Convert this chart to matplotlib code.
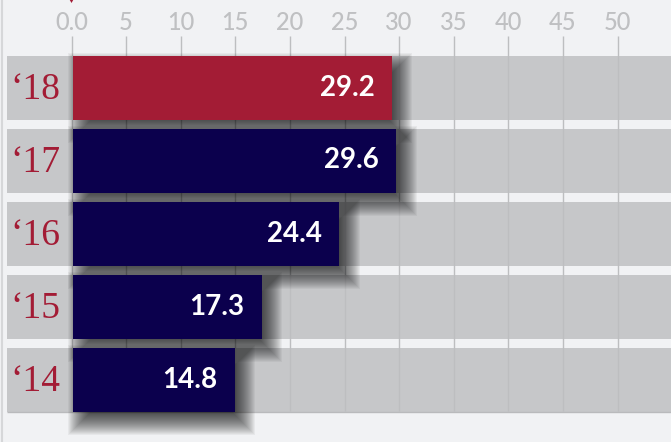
import matplotlib
matplotlib.use('Agg')
import matplotlib.pyplot as plt
from matplotlib.patches import Rectangle, Polygon

years = ['\u201818', '\u201817', '\u201816', '\u201815', '\u201814']
values = [29.2, 29.6, 24.4, 17.3, 14.8]
bar_colors = ['#a31c35', '#0b004d', '#0b004d', '#0b004d', '#0b004d']
ticks = [0, 5, 10, 15, 20, 25, 30, 35, 40, 45, 50]
tick_labels = ['0.0', '5', '10', '15', '20', '25', '30', '35', '40', '45', '50']

W, H = 671, 442
bg = '#f1f2f4'
band = '#c6c7c9'
red = '#a31c35'

fig = plt.figure(figsize=(W / 100, H / 100), dpi=100)
fig.patch.set_facecolor(bg)
ax = fig.add_axes([0, 0, 1, 1])
ax.set_facecolor(bg)
ax.axis('off')

# pixel scale helpers
px = 10.92      # pixels per unit on x
x0 = 71.5       # pixel of value 0
pitch = 73.0    # pixels per row
c0 = 87.5       # pixel centre of first row
ax.set_xlim(-x0 / px, (W - x0) / px)
ax.set_ylim((H - c0) / pitch, -c0 / pitch)


def yp(p):
    return (p - c0) / pitch


rows = list(range(len(years)))
bh = 64 / pitch

# grey row bands
ax.barh(rows, (W + 10) / px, left=(7 - x0) / px, height=bh, color=band, zorder=1)
ax.hlines(yp(411.5), (7 - x0) / px, W / px, color='#b9babc', lw=1, zorder=2)
ax.axvline((1.5 - x0) / px, color='#d6d7d9', lw=1.5, zorder=1)

# tick lines + labels
ax.vlines(ticks, yp(36), yp(411), color='#bdbec0', lw=1, zorder=2)
for t, lab in zip(ticks, tick_labels):
    ax.text(t, yp(23), lab, ha='center', va='center', fontsize=17,
            family='Lato', fontweight='medium', color='#bfc0c2', zorder=5)
# little red pointer cut by the top edge
ax.add_patch(Polygon([(-4 / px, yp(-4)), (4 / px, yp(-4)), (0, yp(3))],
                     closed=True, facecolor=red, lw=0, zorder=5))

# soft drop shadows (linear ramp made of stacked rectangles)
n_layers = 28
for r, v in zip(rows, values):
    dx, dy = 9 / px, 10 / pitch
    for k in range(n_layers):
        g = k - n_layers / 2
        padx = g / px
        pady = g / pitch
        ax.add_patch(Rectangle((dx - padx, r - bh / 2 + dy - pady),
                               v + 2 * padx, bh + 2 * pady,
                               facecolor='black', alpha=0.042, lw=0, zorder=3))

# bars
ax.barh(rows, values, left=1.5 / px, height=bh, color=bar_colors, zorder=4)

for r, v, yr in zip(rows, values, years):
    ax.text(v - 16 / px, r, f'{v:.1f}', ha='right', va='center', fontsize=20,
            family='Lato', fontweight='bold', color='white', zorder=6)
    ax.text((10 - x0) / px, r + 2 / pitch, yr, ha='left', va='center', fontsize=27,
            family='Liberation Serif', color=red, zorder=6)

fig.savefig('out.png', dpi=100, facecolor=bg)
